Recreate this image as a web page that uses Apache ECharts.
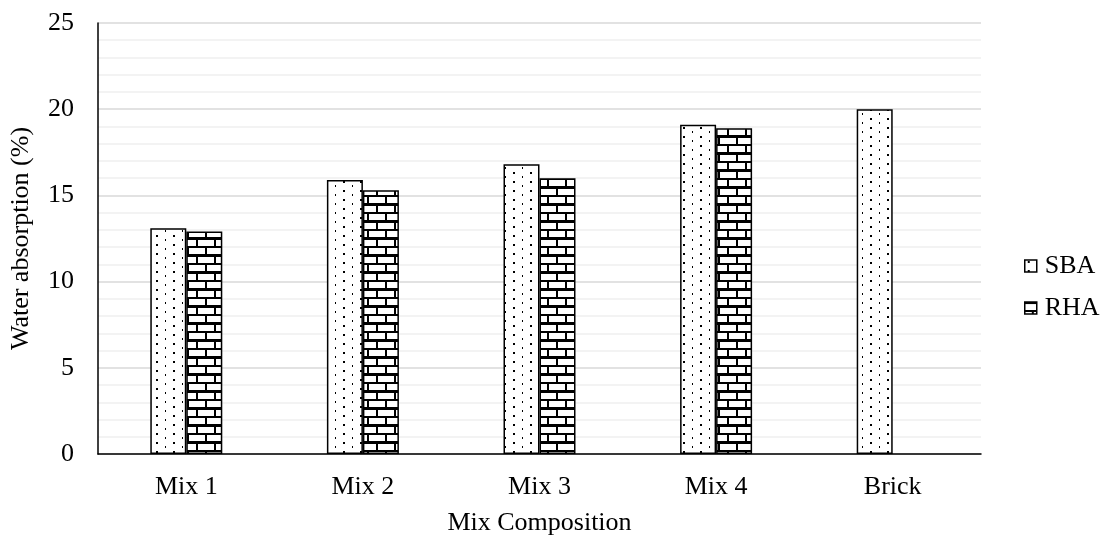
<!DOCTYPE html>
<html><head><meta charset="utf-8">
<script src="https://cdn.jsdelivr.net/npm/echarts@6/dist/echarts.min.js"></script>
<style>html,body{margin:0;padding:0;background:#fff}#c{width:1102px;height:541px}</style>
</head><body><div id="c"></div>
<script>
const categories = ['Mix 1', 'Mix 2', 'Mix 3', 'Mix 4', 'Brick'];
const sba = [13.1, 15.9, 16.8, 19.1, 20.0];
const rha = [12.9, 15.3, 16.0, 18.9, null];
const yTicks = [0, 5, 10, 15, 20, 25];

function dotPattern() {
  const c = document.createElement('canvas');
  c.width = 17; c.height = 9;
  const x = c.getContext('2d');
  x.fillStyle = '#fff'; x.fillRect(0, 0, 17, 9);
  x.fillStyle = '#000';
  x.fillRect(3, 1, 2, 2);
  x.fillRect(12, 5, 1, 2);
  return c;
}
function brickPattern() {
  const c = document.createElement('canvas');
  c.width = 18; c.height = 17;
  const x = c.getContext('2d');
  x.fillStyle = '#000'; x.fillRect(0, 0, 18, 17);
  x.fillStyle = '#fff';
  x.fillRect(0, 2, 16, 6);
  x.fillRect(0, 10, 7, 6);
  x.fillRect(9, 10, 9, 6);
  return c;
}

const chart = echarts.init(document.getElementById('c'), null, {renderer: 'canvas'});
const font = "'Liberation Serif', 'Times New Roman', serif";
chart.setOption({
  animation: false,
  textStyle: {fontFamily: font},
  grid: {left: 95, right: 121, top: 23, bottom: 86, containLabel: false},
  legend: {
    orient: 'vertical', left: 1019, top: 248, itemGap: 16,
    icon: 'rect', itemWidth: 12, itemHeight: 12,
    itemStyle: {borderWidth: 1.5, borderColor: '#000'},
    textStyle: {fontFamily: font, fontSize: 26, color: '#000', padding: [0, 0, 0, 3]},
    data: ['SBA', 'RHA']
  },
  xAxis: {
    type: 'category', data: categories,
    name: 'Mix Composition', nameLocation: 'middle', nameGap: 56,
    nameTextStyle: {fontFamily: font, fontSize: 26, color: '#000'},
    axisLine: {lineStyle: {color: '#000', width: 1.5}},
    axisTick: {show: false},
    axisLabel: {fontFamily: font, fontSize: 26, color: '#000', margin: 20}
  },
  yAxis: {
    type: 'value', min: yTicks[0], max: yTicks[yTicks.length - 1], interval: 5,
    name: 'Water absorption (%)', nameLocation: 'middle', nameGap: 64,
    nameTextStyle: {fontFamily: font, fontSize: 26, color: '#000'},
    axisLine: {show: true, lineStyle: {color: '#000', width: 1.5}},
    axisTick: {show: false},
    axisLabel: {fontFamily: font, fontSize: 26, color: '#000', margin: 24},
    splitLine: {lineStyle: {color: '#d9d9d9', width: 1.5}},
    minorTick: {show: false, splitNumber: 5},
    minorSplitLine: {show: true, lineStyle: {color: '#efefef', width: 1.5}}
  },
  series: [
    {
      name: 'SBA', type: 'bar', data: sba, barWidth: 36, barGap: '0%',
      itemStyle: {color: {image: dotPattern(), repeat: 'repeat'}, borderColor: '#000', borderWidth: 1.5}
    },
    {
      name: 'RHA', type: 'bar', data: rha, barWidth: 36,
      itemStyle: {color: {image: brickPattern(), repeat: 'repeat'}, borderColor: '#000', borderWidth: 1.5}
    }
  ]
});
</script>
</body></html>
